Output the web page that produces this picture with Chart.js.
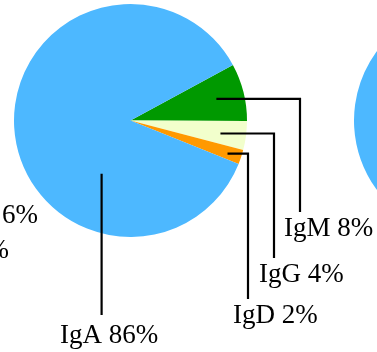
<!DOCTYPE html>
<html>
<head>
<meta charset="utf-8">
<script src="https://cdn.jsdelivr.net/npm/chart.js@4/dist/chart.umd.min.js"></script>
<style>
  html, body { margin: 0; padding: 0; background: #fff; overflow: hidden; }
  #wrap { position: relative; width: 377px; height: 352px; overflow: hidden; }
  #main { position: absolute; left: 0; top: 0; }
  #next { position: absolute; left: 354px; top: 4px; }
</style>
</head>
<body>
<div id="wrap">
  <canvas id="main" width="377" height="352"></canvas>
  <canvas id="next" width="233" height="233"></canvas>
</div>
<script>
// Immunoglobulin classes and their share (%)
const classes = ['IgM', 'IgG', 'IgD', 'IgA'];
const shares = [8, 4, 2, 86];
const sliceColors = ['#009900', '#f2ffcc', '#ff9900', '#4db8ff'];

// Label fragments of the neighbouring chart on the left
const leftFragments = ['6%', '%'];

const FONT = '27px "Liberation Serif", "Times New Roman", serif';

// Leader line layout per slice: point inside the slice (fraction along the arc,
// fraction of the radius), elbow x, end of the vertical drop, and label position.
const leaderLayout = [
  { along: 0.50, depth: 0.76, elbowX: 300, endY: 212, textX: 284, baseY: 236 },
  { along: 0.55, depth: 0.78, elbowX: 274, endY: 258, textX: 259, baseY: 282 },
  { along: 0.58, depth: 0.88, elbowX: 248, endY: 299, textX: 233, baseY: 323 },
  { along: 0.312, depth: 0.52, elbowX: null, endY: 315, textX: 60, baseY: 343 }
];

const leaderPlugin = {
  id: 'leaders',
  afterDatasetsDraw(chart) {
    const ctx = chart.ctx;
    const arcs = chart.getDatasetMeta(0).data;
    ctx.save();
    ctx.strokeStyle = '#000';
    ctx.lineWidth = 2.2;
    ctx.fillStyle = '#000';
    ctx.font = FONT;
    ctx.textBaseline = 'alphabetic';
    arcs.forEach((arc, i) => {
      const L = leaderLayout[i];
      const p = arc.getProps(['x', 'y', 'startAngle', 'endAngle', 'outerRadius'], true);
      const a = p.startAngle + (p.endAngle - p.startAngle) * L.along;
      const r = p.outerRadius * L.depth;
      const sx = p.x + Math.cos(a) * r;
      const sy = p.y + Math.sin(a) * r;
      const ex = L.elbowX === null ? sx : L.elbowX;
      ctx.beginPath();
      ctx.moveTo(sx, sy);
      ctx.lineTo(ex, sy);
      ctx.lineTo(ex, L.endY);
      ctx.stroke();
      ctx.textAlign = 'left';
      ctx.fillText(classes[i] + ' ' + shares[i] + '%', L.textX, L.baseY);
    });
    // cut-off labels from the adjacent chart
    ctx.textAlign = 'right';
    ctx.fillText(leftFragments[0], 38, 223);
    ctx.fillText(leftFragments[1], 9, 258);
    ctx.restore();
  }
};

const pieOptions = (padding) => ({
  responsive: false,
  animation: false,
  rotation: 61.5,
  layout: { padding },
  plugins: { legend: { display: false }, tooltip: { enabled: false } }
});

new Chart(document.getElementById('main'), {
  type: 'pie',
  data: {
    labels: classes,
    datasets: [{ data: shares, backgroundColor: sliceColors, borderWidth: 0 }]
  },
  options: pieOptions({ left: 14, top: 4, right: 130, bottom: 115 }),
  plugins: [leaderPlugin]
});

// neighbouring pie, only its left edge is in view
new Chart(document.getElementById('next'), {
  type: 'pie',
  data: {
    labels: classes,
    datasets: [{ data: shares, backgroundColor: sliceColors, borderWidth: 0 }]
  },
  options: pieOptions(0)
});
</script>
</body>
</html>
